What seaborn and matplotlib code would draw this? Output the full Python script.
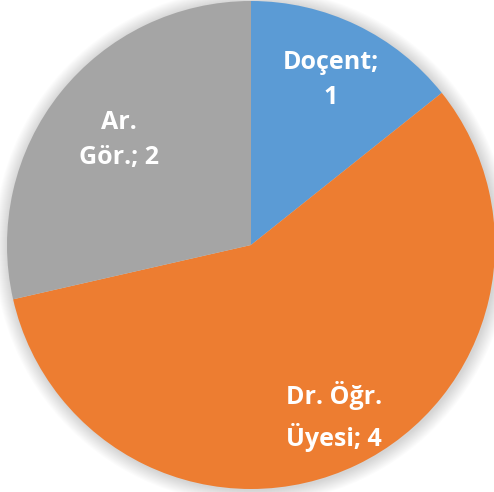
import matplotlib
matplotlib.use("Agg")
import matplotlib.pyplot as plt
import seaborn as sns
import numpy as np
from matplotlib.patches import Circle

sns.set_theme(style="white")
plt.rcParams['font.family'] = ['Open Sans', 'DejaVu Sans']

categories = ["Doçent", "Dr. Öğr. Üyesi", "Ar. Gör."]
values = [1, 4, 2]
label_texts = ["Doçent;\n1", "Dr. Öğr.\nÜyesi; 4", "Ar.\nGör.; 2"]
colors = ["#5B9BD5", "#ED7D31", "#A5A5A5"]
label_dist = [0.75, 0.78, 0.69]

W, H = 494, 492
fig = plt.figure(figsize=(W / 100, H / 100), dpi=100)
ax = fig.add_axes([0, 0, 1, 1])
ax.set_xlim(0, W)
ax.set_ylim(0, H)
ax.set_aspect('equal')
ax.axis('off')

cx, cy, R = 251, H - 245, 244

# soft glow/shadow around the pie
for k in range(14, 0, -1):
    ax.add_patch(Circle((cx + 1, cy - 1), R + k, color="#000000", alpha=0.012, lw=0, zorder=0))

wedges, texts = ax.pie(values, labels=label_texts, colors=colors, startangle=90,
                       counterclock=False, center=(cx, cy), radius=R,
                       labeldistance=0.76, frame=True,
                       wedgeprops=dict(linewidth=0, zorder=2),
                       textprops=dict(color="white", fontsize=18, fontweight="bold"))
for w, t, d in zip(wedges, texts, label_dist):
    mid = np.deg2rad((w.theta1 + w.theta2) / 2)
    t.set_position((cx + d * R * np.cos(mid), cy + d * R * np.sin(mid)))
    t.set_horizontalalignment("center")
    t.set_verticalalignment("center")
    t.set_linespacing(1.55)
    t.set_zorder(3)

ax.set_xlim(0, W)
ax.set_ylim(0, H)
ax.axis('off')
fig.savefig("out.png", dpi=100)
